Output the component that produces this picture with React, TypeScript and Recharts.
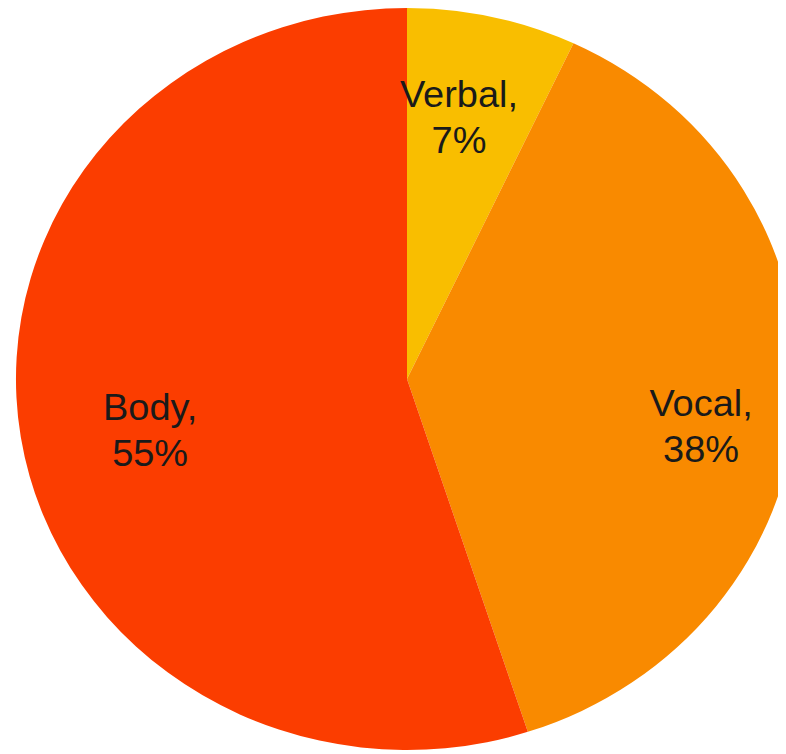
import React from 'react';
import { PieChart, Pie, Cell } from 'recharts';

const categories = ['Verbal', 'Vocal', 'Body'];
const shares = [7, 38, 55];
const colors = ['#F9BE00', '#F98A00', '#FB3D00'];

const data = categories.map((name, i) => ({ name, value: shares[i] }));

// label placement relative to each slice's mid-angle (radius fraction, angle shift in degrees)
const labelPlacement: Record<string, { r: number; shift: number }> = {
  Verbal: { r: 0.729, shift: -2.1 },
  Vocal: { r: 0.761, shift: 5.2 },
  Body: { r: 0.669, shift: -1.9 },
};

const renderLabel = (props: any) => {
  const { cx, cy, midAngle, outerRadius } = props;
  const name: string = props.name ?? props.payload?.name;
  const value: number = props.value ?? props.payload?.value;
  const place = labelPlacement[name] || { r: 0.7, shift: 0 };
  const theta = ((90 - midAngle + place.shift) * Math.PI) / 180;
  const r = outerRadius * place.r;
  const x = cx + r * Math.sin(theta);
  const y = cy - r * Math.cos(theta);
  return (
    <text
      x={x}
      y={y}
      textAnchor="middle"
      fill="#1a1a1a"
      fontSize={36}
      fontFamily="'Liberation Sans', Arial, Helvetica, sans-serif"
    >
      <tspan x={x} y={y - 6}>{`${name},`}</tspan>
      <tspan x={x} y={y + 40}>{`${value}%`}</tspan>
    </text>
  );
};

export default function App() {
  return (
    <div style={{ width: 778, height: 746, overflow: 'hidden' }}>
      <div
        style={{
          width: 770,
          height: 746,
          transform: 'scaleX(1.054)',
          transformOrigin: '399px 371px',
        }}
      >
        <PieChart width={770} height={746} margin={{ top: 0, right: 0, bottom: 0, left: 0 }}>
          <Pie
            data={data}
            dataKey="value"
            nameKey="name"
            cx={399}
            cy={371}
            outerRadius={371}
            startAngle={90}
            endAngle={-270}
            stroke="none"
            label={renderLabel}
            labelLine={false}
            isAnimationActive={false}
          >
            {data.map((d, i) => (
              <Cell key={d.name} fill={colors[i]} />
            ))}
          </Pie>
        </PieChart>
      </div>
    </div>
  );
}
